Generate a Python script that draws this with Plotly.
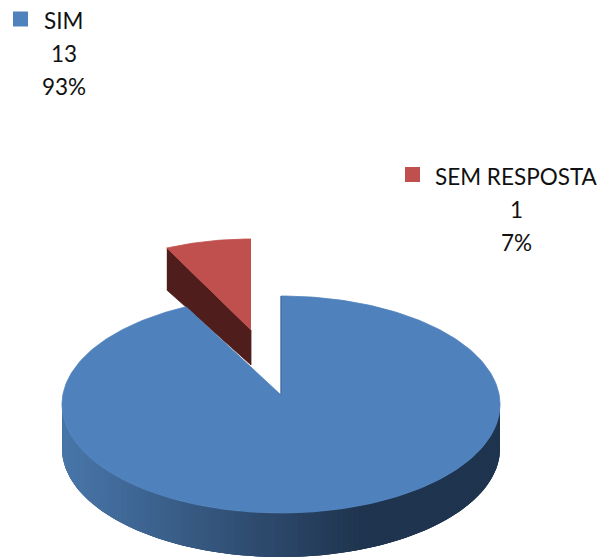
import numpy as np
import plotly.graph_objects as go

categories = ["SIM", "SEM RESPOSTA"]
counts = [13, 1]
percent_labels = ["93%", "7%"]
top_colors = ["#4f81bd", "#c0504d"]

W, H = 605, 557
PAGE_INSET = 8   # the page's own body margin
share = np.array(counts) / sum(counts)
gap = np.radians(360 * share[1])   # angle of the exploded slice


def hex_mix(c1, c2, f):
    a = [int(c1[i:i + 2], 16) for i in (1, 3, 5)]
    b = [int(c2[i:i + 2], 16) for i in (1, 3, 5)]
    return "#%02x%02x%02x" % tuple(round(a[i] + (b[i] - a[i]) * f) for i in range(3))


def pt(t, cx, cy, a, b, dy=0):
    return cx + a * np.sin(t), cy - b * np.cos(t) + dy


fig = go.Figure()


def poly(xs, ys, color, lw=0.8):
    fig.add_trace(go.Scatter(x=list(xs), y=list(ys), mode="lines", fill="toself",
                             fillcolor=color, line=dict(color=color, width=lw),
                             hoverinfo="skip", showlegend=False))


# --- exploded slice (SEM RESPOSTA)
rc = dict(cx=251, cy=330, a=194, b=91)
lx, ly = pt(-gap, **rc)
apex_r = (251, 330)
depth_r = 38
poly([lx, apex_r[0], apex_r[0], lx], [ly, apex_r[1], apex_r[1] + depth_r - 3, ly + 42], "#4f1e1c")
ts = np.linspace(-gap, 0, 30)
x, y = pt(ts, **rc)
poly([apex_r[0], *x], [apex_r[1], *y], top_colors[1])

# --- main slice (SIM)
mc = dict(cx=281, cy=404.5, a=219, b=108.5)
apex_m = (281, 395)
depth = 44
# side wall, gradient by horizontal position; each strip overlaps the next to hide seams
poly(*[np.concatenate(v) for v in zip(pt(np.linspace(np.pi / 2, 3 * np.pi / 2, 200), **mc),
                                      pt(np.linspace(3 * np.pi / 2, np.pi / 2, 200), **mc, dy=depth))],
     "#1f344e", lw=0)
edges = np.linspace(np.pi / 2, 3 * np.pi / 2, 121)
for k in range(len(edges) - 1):
    seg = np.linspace(edges[k], edges[min(k + 2, len(edges) - 1)], 6)
    xa, ya = pt(seg, **mc)
    xb, yb = pt(seg[::-1], **mc, dy=depth)
    xm = xa.mean()
    if xm > 360:
        col = "#1f344e"
    elif xm > 281:
        col = hex_mix("#2a4566", "#1f344e", (xm - 281) / 79)
    else:
        col = hex_mix("#4876a9", "#2a4566", (xm - 64) / 217)
    poly([*xa, *xb], [*ya, *yb], col, lw=0)

ts = np.linspace(0, 2 * np.pi - gap, 300)
x, y = pt(ts, **mc)
poly([apex_m[0], *x, apex_m[0]], [apex_m[1], *y, apex_m[1]], top_colors[0])
x0, y0 = pt(0.0, **mc)
fig.add_trace(go.Scatter(x=[apex_m[0], x0], y=[apex_m[1], y0], mode="lines",
                         line=dict(color="#3d6797", width=1),
                         hoverinfo="skip", showlegend=False))

# --- legend-like labels
label_pos = [(63.5, 20), (516, 176)]
swatch_pos = [(20.5, 19), (412.5, 174.5)]
for i, cat in enumerate(categories):
    fig.add_trace(go.Scatter(x=[swatch_pos[i][0]], y=[swatch_pos[i][1]], mode="markers",
                             marker=dict(symbol="square", size=15, color=top_colors[i]),
                             hoverinfo="skip", showlegend=False))
    lines = [cat, str(counts[i]), percent_labels[i]]
    for j, s in enumerate(lines):
        fig.add_annotation(x=label_pos[i][0], y=label_pos[i][1] + 33 * j, text=s, showarrow=False,
                           xanchor="center", yanchor="middle",
                           font=dict(family="Lato", size=22.5, color="#111111"))

fig.update_layout(width=W - PAGE_INSET, height=H - PAGE_INSET, margin=dict(l=0, r=0, t=0, b=0),
                  paper_bgcolor="white", plot_bgcolor="white", showlegend=False,
                  xaxis=dict(range=[PAGE_INSET, W], visible=False, fixedrange=True),
                  yaxis=dict(range=[H, PAGE_INSET], visible=False, fixedrange=True))
fig.write_html("out.html", config=dict(displayModeBar=False))
